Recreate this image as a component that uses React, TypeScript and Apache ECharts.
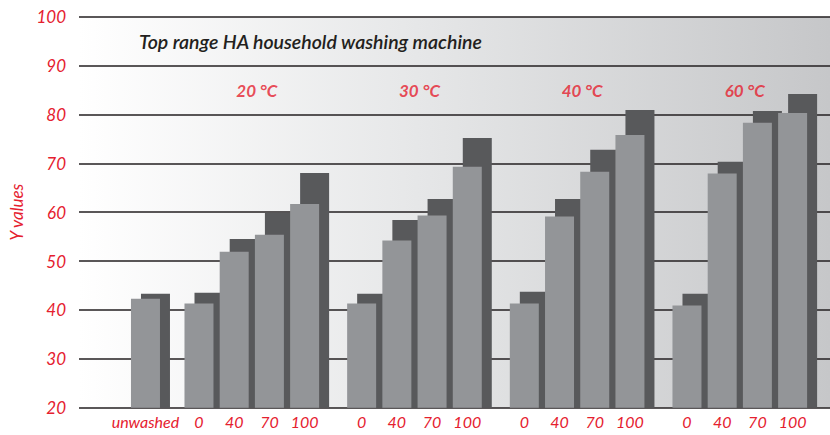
import React, { useEffect, useRef } from "react";
import * as echarts from "echarts";

// ---- data ----
const titleText = "Top range HA household washing machine";
const yAxisName = "Y values";
const groupLabels = ["20 °C", "30 °C", "40 °C", "60 °C"];
const loadLabels = ["0", "40", "70", "100"];
const unwashedLabel = "unwashed";
const unwashedFront = 42.3;
const unwashedBack = 43.3;
const frontValues20 = [41.3, 51.9, 55.4, 61.7];
const frontValues30 = [41.3, 54.2, 59.3, 69.3];
const frontValues40 = [41.3, 59.1, 68.3, 75.8];
const frontValues60 = [40.9, 67.9, 78.3, 80.3];
const backValues20 = [43.5, 54.5, 59.9, 68.0];
const backValues30 = [43.3, 58.4, 62.7, 75.2];
const backValues40 = [43.7, 62.7, 72.8, 80.9];
const backValues60 = [43.3, 70.3, 80.7, 84.2];
const yMin = 20;
const yMax = 100;
const yStep = 10;

// ---- layout constants (x in units of one bar step) ----
const UNWASHED_POS = 2.03;
const GROUP_START = 3.55;
const GROUP_STEP = 4.62;
const X_MAX = 21.33;
const LABEL_SHIFT = -0.142;
const GROUP_LABEL_Y = 85;

const RED = "#e5202e";
const FONT = "Lato";

export default function App() {
  const ref = useRef<HTMLDivElement>(null);
  useEffect(() => {
    document.body.style.margin = "0";
    if (!ref.current) return;
    const chart = echarts.init(ref.current, undefined, { renderer: "svg" });

    const frontGroups = [frontValues20, frontValues30, frontValues40, frontValues60];
    const backGroups = [backValues20, backValues30, backValues40, backValues60];
    const positions: number[] = [UNWASHED_POS];
    const texts: string[] = [unwashedLabel];
    const fronts: number[] = [unwashedFront];
    const backs: number[] = [unwashedBack];
    frontGroups.forEach((grp, g) => {
      grp.forEach((v, i) => {
        positions.push(GROUP_START + g * GROUP_STEP + i);
        texts.push(loadLabels[i]);
        fronts.push(v);
        backs.push(backGroups[g][i]);
      });
    });
    const labelPositions = positions.map((p) => p + LABEL_SHIFT);
    const groupCenters = groupLabels.map((_, g) => GROUP_START + g * GROUP_STEP + 1.5);

    chart.setOption({
      animation: false,
      title: {
        text: titleText,
        left: 139,
        top: 31,
        padding: 0,
        textStyle: {
          fontFamily: FONT,
          fontStyle: "italic",
          fontWeight: 600,
          fontSize: 19.5,
          color: "#231f20",
        },
      },
      grid: {
        left: 79,
        right: 0,
        top: 16.7,
        bottom: 27.3,
        show: true,
        borderWidth: 0,
        backgroundColor: new echarts.graphic.LinearGradient(0, 0, 1, 0, [
          { offset: 0, color: "#ffffff" },
          { offset: 0.45, color: "#e6e7e8" },
          { offset: 1, color: "#c6c7c9" },
        ]),
      },
      xAxis: {
        type: "value",
        min: 0,
        max: X_MAX,
        splitLine: { show: false },
        axisLine: { show: false },
        axisTick: { show: false },
        axisLabel: {
          customValues: labelPositions,
          margin: 6,
          color: RED,
          fontFamily: FONT,
          fontStyle: "italic",
          fontSize: 16,
          formatter: (v: number) => {
            const k = labelPositions.findIndex((p) => Math.abs(p - v) < 1e-6);
            return k >= 0 ? texts[k] : "";
          },
        },
      },
      yAxis: {
        type: "value",
        min: yMin,
        max: yMax,
        interval: yStep,
        name: yAxisName,
        nameLocation: "middle",
        nameGap: 54,
        nameTextStyle: {
          color: RED,
          fontFamily: FONT,
          fontStyle: "italic",
          fontSize: 17,
        },
        axisLine: { show: false },
        axisTick: { show: false },
        axisLabel: {
          margin: 13,
          color: RED,
          fontFamily: FONT,
          fontStyle: "italic",
          fontSize: 17,
        },
        splitLine: { show: true, lineStyle: { color: "#231f20", width: 1.6 } },
      },
      series: [
        {
          type: "bar",
          name: "front",
          data: positions.map((p, k) => [p, fronts[k]]),
          barWidth: 29,
          barGap: "-65.5%",
          itemStyle: { color: "#939598" },
          z: 4,
          silent: true,
        },
        {
          type: "bar",
          name: "back",
          data: positions.map((p, k) => [p, backs[k]]),
          barWidth: 29,
          itemStyle: { color: "#58595b" },
          z: 3,
          silent: true,
        },
        {
          type: "scatter",
          data: groupCenters.map((c) => [c, GROUP_LABEL_Y]),
          symbolSize: 1,
          itemStyle: { color: "rgba(0,0,0,0)" },
          silent: true,
          label: {
            show: true,
            position: "inside",
            formatter: (p: any) => groupLabels[p.dataIndex],
            color: RED,
            fontFamily: FONT,
            fontStyle: "italic",
            fontWeight: "bold",
            fontSize: 17,
          },
        },
      ],
    });
    return () => chart.dispose();
  }, []);
  return <div ref={ref} style={{ width: 830, height: 435 }} />;
}
